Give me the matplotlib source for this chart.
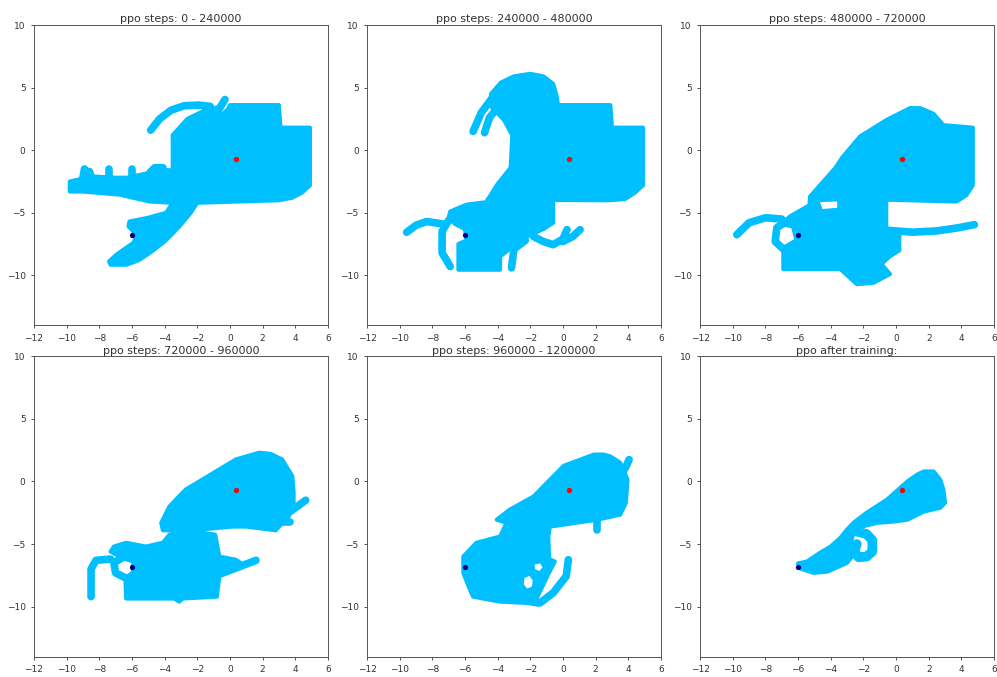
import matplotlib.pyplot as plt

BLUE = "#00bfff"

titles = ["ppo steps: 0 - 240000", "ppo steps: 240000 - 480000",
          "ppo steps: 480000 - 720000", "ppo steps: 720000 - 960000",
          "ppo steps: 960000 - 1200000", "ppo after training:"]

start_xy = (-6.0, -6.8)
goal_xy = (0.35, -0.68)

# --- steps 0 - 240000: visited regions (outlines) and thin trajectories
body_1 = [(-3.5, 1.2), (-2.6, 2.5), (-1.5, 3.2), (-0.8, 3.4), (-0.5, 2.8), (-0.1, 3.3),
          (0.0, 3.6), (3.0, 3.6), (3.1, 1.8), (4.9, 1.8), (4.9, -2.8), (4.4, -3.4),
          (3.8, -3.8), (3.0, -4.0), (-2.0, -4.2), (-2.4, -5.0), (-3.1, -6.1), (-4.0, -7.3),
          (-4.9, -8.2), (-5.6, -8.8), (-6.35, -9.15), (-7.3, -9.15), (-7.4, -8.9),
          (-6.95, -8.35), (-5.9, -7.4), (-5.75, -6.9), (-5.9, -6.5), (-6.2, -6.1),
          (-6.15, -5.7), (-5.0, -5.4), (-3.9, -5.0), (-3.5, -4.2)]
band_1 = [(-9.8, -2.5), (-9.1, -2.3), (-8.4, -2.1), (-7.0, -2.2), (-6.3, -2.2),
          (-5.6, -2.0), (-4.9, -1.8), (-4.1, -1.6), (-3.5, -1.6), (-3.5, -4.2),
          (-4.9, -4.1), (-6.75, -3.55), (-9.0, -3.3), (-9.8, -3.3)]
knobs_1 = [[(-9.0, -2.2), (-8.9, -1.5)], [(-8.5, -2.1), (-8.6, -1.7)],
           [(-7.4, -2.2), (-7.4, -1.5)], [(-6.0, -2.1), (-6.0, -1.5)],
           [(-4.9, -1.8), (-4.6, -1.4), (-4.1, -1.4)]]
arc_1 = [(-4.85, 1.6), (-4.3, 2.5), (-3.6, 3.2), (-2.8, 3.55), (-1.9, 3.6), (-1.2, 3.5)]
finger_1 = [(-0.7, 3.2), (-0.3, 4.05)]

# --- steps 240000 - 480000
body_2 = [(-4.6, -3.95), (-4.0, -2.7), (-3.2, -1.4), (-3.1, 1.2), (-3.6, 2.4), (-4.4, 3.5),
          (-4.4, 4.5), (-3.8, 5.4), (-3.0, 5.9), (-2.0, 6.1), (-1.2, 5.9), (-0.6, 5.3),
          (-0.4, 4.4), (-0.3, 3.6), (2.9, 3.6), (3.0, 1.8), (4.9, 1.8), (4.9, -2.8),
          (4.4, -3.4), (3.8, -3.9), (2.8, -4.0)]
low_2 = [(-6.9, -4.9), (-5.9, -4.35), (-4.67, -4.15), (-4.6, -3.9), (-0.6, -3.95),
         (-0.6, -5.8), (-1.2, -6.3), (-2.2, -6.9), (-3.0, -7.6), (-3.85, -8.5),
         (-3.85, -9.55), (-6.4, -9.55), (-6.4, -7.5), (-5.9, -7.2), (-6.0, -6.3),
         (-6.6, -5.9), (-7.0, -5.4)]
finger_2a = [(-5.5, 1.5), (-5.0, 3.0), (-4.2, 4.4)]
finger_2b = [(-4.8, 1.4), (-4.5, 2.6), (-4.0, 3.4)]
tail_2 = [(-9.57, -6.56), (-9.0, -6.0), (-8.35, -5.7), (-7.33, -5.9)]
loop_2 = [(-7.0, -5.6), (-7.4, -6.5), (-7.4, -8.2), (-6.9, -9.3)]
mid_2 = [(-2.3, -7.2), (-3.0, -7.9), (-3.15, -9.4)]
hook_2 = [(-1.8, -6.9), (-1.2, -7.3), (-0.6, -7.55), (0.0, -7.1), (0.25, -6.35)]
spur_2 = [(0.0, -7.3), (0.6, -6.9), (1.05, -6.35)]

# --- steps 480000 - 720000
body_3 = [(4.7, 1.8), (2.9, 2.0), (2.3, 2.9), (1.5, 3.35), (0.86, 3.36), (-0.57, 2.42),
          (-2.2, 1.1), (-3.3, -0.6), (-3.7, -1.4), (-5.26, -3.7), (-5.3, -4.4),
          (-6.5, -5.3), (-7.0, -5.9), (-6.3, -6.1), (-6.1, -7.2), (-6.9, -7.8), (-6.9, -9.5),
          (-3.4, -9.5), (-2.4, -10.7), (-1.4, -10.6), (-0.37, -9.9), (-0.9, -9.1),
          (-0.4, -8.5), (0.2, -8.0), (0.2, -6.8), (-0.6, -6.3), (-0.6, -3.95), (3.7, -4.1),
          (4.3, -3.6), (4.7, -2.8)]
tail_3 = [(-9.75, -6.75), (-9.0, -5.8), (-8.0, -5.4), (-7.0, -5.5)]
loop_3 = [(-6.6, -5.6), (-7.3, -6.2), (-7.4, -7.3), (-6.9, -7.9)]
long_3 = [(-0.5, -6.4), (1.0, -6.55), (2.5, -6.45), (3.8, -6.2), (4.8, -5.95)]
gaps_3 = [[(-4.65, -4.15), (-3.6, -4.1), (-3.6, -4.6), (-4.5, -4.7)]]

# --- steps 720000 - 960000
upper_4 = [(1.8, 2.3), (2.5, 2.2), (3.2, 1.76), (3.82, 0.42), (3.9, -0.9), (3.9, -1.7),
           (3.6, -2.8), (2.8, -3.9), (1.0, -3.6), (0.15, -3.6), (-1.5, -3.8), (-3.5, -3.9),
           (-4.1, -3.9), (-4.2, -3.3), (-3.7, -2.0), (-2.7, -0.64), (-1.67, 0.16),
           (0.37, 1.76)]
lower_4 = [(-7.3, -5.6), (-7.1, -5.2), (-6.35, -4.9), (-5.15, -5.2), (-4.1, -4.9),
           (-3.7, -4.25), (-2.7, -3.9), (-0.9, -4.25), (-0.65, -6.0), (0.35, -6.25),
           (0.65, -6.5), (-0.05, -7.05), (-0.65, -7.6), (-0.8, -9.2), (-2.9, -9.35),
           (-3.1, -9.6), (-3.4, -9.35), (-6.35, -9.35), (-6.4, -7.7), (-5.95, -7.3),
           (-5.9, -6.4), (-6.6, -6.1)]
ring_4 = [(-6.6, -6.1), (-7.1, -6.5), (-7.0, -7.3), (-6.4, -7.7)]
hook_4 = [(-8.5, -9.2), (-8.5, -7.0), (-8.2, -6.3), (-7.3, -6.2)]
right_4a = [(3.0, -3.0), (3.8, -2.3), (4.64, -1.5)]
right_4b = [(2.8, -3.2), (3.7, -3.2)]
right_4c = [(-0.6, -7.4), (0.4, -6.9), (1.6, -6.3)]

# --- steps 960000 - 1200000
body_5 = [(1.9, 2.15), (2.5, 2.15), (2.9, 2.0), (3.5, 1.5), (3.95, 0.15), (3.85, -1.7),
          (3.5, -2.65), (2.1, -3.05), (1.3, -3.2), (0.05, -3.45), (-0.8, -3.6), (-0.9, -4.4),
          (-0.85, -6.2), (-0.5, -6.4), (-0.9, -7.4), (-1.3, -8.5), (-1.6, -9.3),
          (-1.5, -9.85), (-2.2, -9.7), (-3.85, -9.6), (-5.5, -9.2), (-5.8, -8.3),
          (-6.1, -7.3), (-6.1, -6.0), (-5.3, -4.9), (-3.85, -4.4), (-3.45, -3.3),
          (-4.05, -3.05), (-3.25, -2.25), (-1.8, -1.2), (0.05, 1.25)]
hook_5 = [(0.33, -6.25), (0.2, -7.57), (-0.6, -8.9), (-1.4, -9.7)]
up_5 = [(3.6, 0.6), (3.9, 1.3), (4.05, 1.75)]
down_5 = [(2.07, -2.8), (2.07, -3.85)]
gaps_5 = [[(-2.35, -7.7), (-2.05, -7.55), (-1.85, -7.9), (-1.9, -8.4), (-2.2, -8.55),
           (-2.4, -8.2)],
          [(-1.75, -6.65), (-1.4, -6.55), (-1.25, -6.85), (-1.45, -7.15), (-1.7, -7.0)]]

# --- after training
body_6 = [(1.7, 0.8), (2.3, 0.8), (2.7, 0.15), (2.9, -0.65), (3.0, -1.7), (2.7, -2.1),
          (1.7, -2.4), (0.7, -3.05), (-0.15, -3.2), (-1.15, -3.3), (-2.1, -3.6),
          (-2.6, -4.1), (-2.8, -5.0), (-2.7, -6.0), (-3.0, -6.5), (-4.2, -7.2),
          (-5.05, -7.3), (-5.85, -6.95), (-6.0, -6.55), (-5.45, -6.4), (-4.65, -5.7),
          (-4.0, -5.2), (-3.4, -4.5), (-3.0, -3.85), (-2.6, -3.3), (-1.8, -2.5),
          (-0.55, -1.45), (0.7, 0.0), (1.3, 0.55)]
curl_6 = [(-2.4, -4.0), (-1.8, -4.2), (-1.45, -4.7), (-1.45, -5.6), (-1.8, -6.0),
          (-2.3, -6.05), (-2.55, -5.6), (-2.4, -5.0)]

panels = [
    ([body_1, band_1], [arc_1, finger_1] + knobs_1, []),
    ([body_2, low_2], [finger_2a, finger_2b, tail_2, loop_2, mid_2, hook_2, spur_2], []),
    ([body_3], [tail_3, loop_3, long_3], gaps_3),
    ([upper_4, lower_4], [ring_4, hook_4, right_4a, right_4b, right_4c], []),
    ([body_5], [hook_5, up_5, down_5], gaps_5),
    ([body_6], [curl_6], []),
]


def draw_panel(ax, regions, trails, gaps, title):
    for pts in regions:
        xs, ys = zip(*pts)
        ax.fill(xs, ys, color=BLUE, lw=3, joinstyle="round")
    for pts in trails:
        xs, ys = zip(*pts)
        ax.plot(xs, ys, color=BLUE, lw=5.5, solid_capstyle="round", solid_joinstyle="round")
    for pts in gaps:
        xs, ys = zip(*pts)
        ax.fill(xs, ys, color="white", lw=0)
    ax.plot(*goal_xy, "o", color="red", ms=3.8, mew=0)
    ax.plot(*start_xy, "o", color="navy", ms=3.8, mew=0)
    ax.set_xlim(-12, 6)
    ax.set_ylim(-14, 10)
    ax.set_xticks(range(-12, 7, 2))
    ax.set_yticks([-10, -5, 0, 5, 10])
    ax.tick_params(labelsize=6.5, length=2.5, width=0.6, colors="#333333")
    for s in ax.spines.values():
        s.set_linewidth(0.7)
        s.set_color("#555555")
    ax.set_title(title, fontsize=8, pad=2, color="#333333")


fig, axes = plt.subplots(2, 3, figsize=(9.97, 6.77), dpi=100)
fig.subplots_adjust(left=0.034, right=0.997, bottom=0.030, top=0.963,
                    wspace=0.133, hspace=0.103)

for ax, (regions, trails, gaps), title in zip(axes.flat, panels, titles):
    draw_panel(ax, regions, trails, gaps, title)

# the curl in the last panel is a wider band of overlapping runs
axes.flat[5].lines[0].set_linewidth(7)

fig.savefig("out.png", dpi=100)
